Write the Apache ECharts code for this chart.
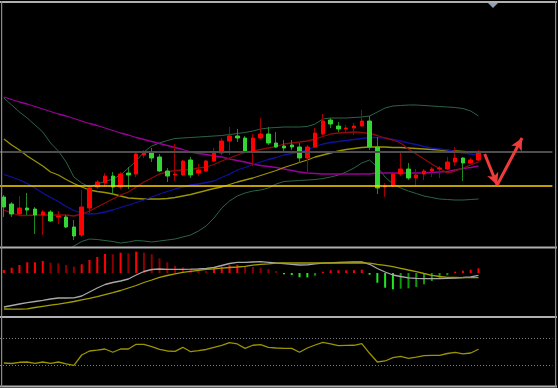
<!DOCTYPE html>
<html><head><meta charset="utf-8">
<script src="https://cdn.jsdelivr.net/npm/echarts/dist/echarts.min.js"></script>
<style>html,body{margin:0;padding:0;background:#000}#c{width:558px;height:388px}</style>
</head><body><div id="c"></div><script>
// ---------- data ----------
const SLOTS = 71;
const categories = Array.from({length: SLOTS}, (_, i) => String(i));

const openP  = [53,46,36,42,41,35,38,33,33,23,15,42,63,67,74,63,77,76,95,98,93,79,75,75,90,77,79,89,97,109,114,112,98,112,116,107,104,105,103,92,103,116,130,124,121,122,124,129,103,63,64,76,81,72,76,79,81,81,88,92,87,90];
const closeP = [43,36,42,40,35,38,29,34,23,14,43,62,68,74,63,76,75,96,97,92,79,74,76,89,75,80,89,97,109,114,112,98,112,116,107,103,102,103,92,103,117,129,126,121,122,124,129,103,62,64,76,81,72,75,79,81,82,88,92,87,90,98];
const lowP   = [33,33,35,35,16,15,28,26,22,10,13,37,61,63,57,61,61,73,92,88,78,68,69,74,72,74,78,88,95,95,108,97,84,111,105,102,99,100,87,78,102,115,122,118,118,115,123,100,56,53,63,74,70,64,70,73,72,80,84,69,86,89];
const highP  = [55,48,54,57,43,40,40,39,35,30,60,65,70,77,78,78,83,98,100,102,96,82,106,90,93,86,90,102,112,123,121,114,116,132,123,118,110,110,107,105,122,136,132,128,125,127,140,134,113,67,77,98,87,81,81,83,84,93,103,93,92,100];

const maPurple = [153,150.5,148,146,143.5,141,138.5,136,134,131.5,129,126.5,124.5,122,119.5,117,115,112.5,110.5,108.5,106.5,104.5,102.5,100.5,98,96.5,95.5,94,93,91,89.5,88,86,84.5,83.5,82.5,81,79.5,78,77,76.5,76,76,76,76,76,76,76,77,77,77,77,77,77,77,77.5,78,78.5,80,81.5,82.5,84];
const maOlive  = [111,105,100,94,89,84,78,75,70.5,66.5,63,60,58.5,57.5,56,54,52,51.5,51,51,51,51.5,52.5,54,55.5,57.5,59.5,61.5,63,65.5,68,70,72,74.5,77,79.5,82.5,85,87.5,90,93,95,97,99,100.5,101.5,102.5,103,103,103,102.5,102.5,102,101.5,101,100.5,100,99.5,99,98.5,98,97.5];
const maBlue   = [75.5,73,70,66.5,62,57,52.5,48.5,43.5,39.5,37,36,36.5,38,40,42.5,45,47.5,50,53,56,58.5,61,63,65,66,67.5,69,72.5,76,80,82.5,85.5,88,90.5,92.5,95,96.5,98,100,103.5,106,107.5,108.5,109.5,110.5,111.5,112.5,112.5,112,110.5,109,107,105.5,103.5,102,101,100,98.5,97,96,95];
const maRed    = [40,37,34.5,34.5,35,35,35,35,35,34,36,39,43,47,51,55,58,63,68,72,76,78,79.5,80,80.5,82,83,85.5,89,92,95,97.5,99,100.5,102,103.5,106,107,108,109,111,113.5,116,117,117.5,118,117.5,116.5,114.5,112,110,107,101,96,91,86,81.5,77,79,82,85,88];
const bbUpper  = [152,145,138,132,125,118,107,99,88,73,67,63,66,68.5,71,75,82,89,98,104,107,109.5,111.5,112,112.5,113,113.5,114,114.5,115.5,116.5,117.5,119,121,122,122.5,123,123,123,123.5,126,131,132,132,132,132.5,133,134,138,142,144,144.5,145,145,144.5,144,143.5,143,142.5,141.5,139,134];
const bbLower  = [null,null,null,null,null,null,null,null,-2,4,8.5,11,10.5,9.5,8.5,7,8,9.5,9,8,9,10,11,13,15,19,24,32,42,49,54,57,59,60,62,66,68.5,69,69.5,70,70.5,71.5,73,75,78,82,87,90,83,73,66,62,59,56.5,54,52.5,51,50.5,50,50,50.5,51];

const levelGray = 98;
const levelYellow = 64;
const arrowPath = [[61.8, 96], [63.4, 65], [66.6, 112]];

const macdHist   = [3,5.3,8,10.7,10.7,12,10.3,9.7,8,6.3,8.7,13,16,19,18.7,20.3,19.7,21.3,20.3,18.7,14.7,10.7,7.3,5.7,4,3,2,4.7,6.3,7.7,8.3,6.3,6,5.3,4,2,-1.3,-2,-4.3,-4.4,-2.7,1.3,2.7,2.7,2.7,2.8,3.3,-1.7,-9.7,-14.7,-16.3,-15.7,-15.3,-14,-11.3,-8,-4.7,-2.3,1.3,2.3,3.3,4.7];
const macdMain   = [-34,-32.5,-31,-29.7,-28.5,-27.3,-26,-25,-25,-24.8,-23,-19,-15,-11.5,-9.5,-8,-6,-2,1.5,3.5,4,3.7,3.7,3.7,3.8,4,4.5,5.5,7.5,9.5,10.7,10.7,11,11.3,10.7,10,9.5,8.7,8,8.2,9.2,9.8,10.2,10.5,10.8,11,11.2,8.7,4.5,1,-2,-3.5,-4.8,-5.3,-5.6,-5.6,-5.5,-5.3,-5,-4.5,-3.8,-2.3];
const macdSignal = [-36,-36.2,-36.2,-35.8,-34.5,-33.3,-32.2,-31.2,-29.8,-28.5,-26.8,-25.3,-23.7,-21.7,-19.7,-17.5,-15,-12.5,-9.5,-7,-4.3,-2.5,-0.8,0.7,1.7,2.7,3.6,4.2,4.9,5.5,6,6.7,7.8,8.7,9.2,9.8,10,10,10,10,10,10,10,10,10,10,10,9.8,8.7,7.7,6.3,4.7,3,1.4,-0.5,-2.3,-3.5,-4.3,-4.5,-4.7,-4.7,-4.7];

const rsi = [33.8,33.1,34.9,35.3,33.4,35.3,33.4,35.3,32.4,30.4,45.6,51.5,52.9,54.4,49.6,54.4,54.4,61.3,61.3,57.8,53.7,51.5,51,56.9,50.4,51.9,53.7,56.9,59.6,63.7,61.8,55.4,59.9,60.7,56.9,55.9,55.4,55.4,49.6,55.9,60.3,64.3,61.8,59.3,59.6,59.9,62.2,48.1,35.3,36.8,41.6,43.7,40.7,42.6,44.6,45.1,45.1,47.8,49.6,47.1,48.5,54];
const rsiLevels = [70, 30];

// ---------- chart ----------
const candles = openP.map((o, i) => [o, closeP[i], lowP[i], highP[i]]);
const bodies = openP.map((o, i) => [o, closeP[i], Math.min(o, closeP[i]), Math.max(o, closeP[i])]);
const histData = macdHist.map((v, i) => {
  const prev = i > 0 ? macdHist[i - 1] : 0;
  let c;
  if (v >= 0) c = v >= prev ? '#ff0000' : '#8c0000';
  else c = v <= prev ? '#1ee81e' : '#0a9a0a';
  return {value: v, itemStyle: {color: c}};
});

const W = 552.4;
const line = (name, data, color, width, xi, yi, extra) => Object.assign({
  name, type: 'line', data, xAxisIndex: xi, yAxisIndex: yi, symbol: 'none',
  lineStyle: {color, width}, itemStyle: {color}, silent: true, z: 2
}, extra || {});

const chart = echarts.init(document.getElementById('c'), null, {renderer: 'canvas'});
chart.setOption({
  backgroundColor: '#000000',
  animation: false,
  grid: [
    {left: 0, width: W, top: 3, height: 244},
    {left: 0, width: W, top: 249, height: 67},
    {left: 0, width: W, top: 318, height: 68}
  ],
  xAxis: [
    {type: 'category', gridIndex: 0, data: categories, boundaryGap: true, show: false},
    {type: 'category', gridIndex: 1, data: categories, boundaryGap: true, show: false},
    {type: 'category', gridIndex: 2, data: categories, boundaryGap: true, show: false},
    {type: 'value', gridIndex: 0, min: -0.5, max: SLOTS - 0.5, show: false}
  ],
  yAxis: [
    {type: 'value', gridIndex: 0, min: 3, max: 247, show: false, splitLine: {show: false}},
    {type: 'value', gridIndex: 1, min: -43, max: 24, show: false, splitLine: {show: false}},
    {type: 'value', gridIndex: 2, min: 0, max: 100, show: false, splitLine: {show: false}}
  ],
  series: [
    {
      type: 'line', xAxisIndex: 0, yAxisIndex: 0, data: [], silent: true, z: 1,
      markLine: {
        silent: true, symbol: 'none', label: {show: false}, animation: false,
        data: [
          {yAxis: levelGray, lineStyle: {color: '#4e4e4e', width: 2, type: 'solid'}},
          {yAxis: levelYellow, lineStyle: {color: '#ffd400', width: 1.6, type: 'solid'}}
        ]
      }
    },
    line('bbUpper', bbUpper, '#2c6446', 1, 0, 0),
    line('bbLower', bbLower, '#2c6446', 1, 0, 0),
    line('purple', maPurple, '#990099', 1.3, 0, 0),
    line('olive', maOlive, '#9a9400', 1.3, 0, 0),
    line('blue', maBlue, '#1010a0', 1.3, 0, 0),
    line('darkred', maRed, '#8c0a0a', 1.3, 0, 0),
    {
      name: 'wicks', type: 'candlestick', xAxisIndex: 0, yAxisIndex: 0, data: candles,
      barWidth: 1, silent: true, z: 3,
      itemStyle: {color: '#a00000', color0: '#1c8a1c', borderColor: '#a00000', borderColor0: '#1c8a1c', borderWidth: 1}
    },
    {
      name: 'bodies', type: 'candlestick', xAxisIndex: 0, yAxisIndex: 0, data: bodies,
      barWidth: 4, silent: true, z: 4,
      itemStyle: {color: '#ff0000', color0: '#33d633', borderColor: '#ff0000', borderColor0: '#33d633', borderWidth: 1}
    },
    {
      name: 'arrows', type: 'line', xAxisIndex: 3, yAxisIndex: 0, data: arrowPath, symbol: 'none',
      lineStyle: {opacity: 0}, silent: true, z: 5,
      markLine: {
        silent: true, animation: false, label: {show: false},
        symbol: ['none', 'arrow'], symbolSize: [9, 12],
        lineStyle: {color: '#ee3b3b', width: 3, type: 'solid'},
        data: [
          [{coord: arrowPath[0]}, {coord: arrowPath[1]}],
          [{coord: arrowPath[1]}, {coord: arrowPath[2]}]
        ]
      }
    },
    {
      name: 'hist', type: 'bar', xAxisIndex: 1, yAxisIndex: 1, data: histData, barWidth: 2, silent: true, z: 2
    },
    line('macd', macdMain, '#a8a8a8', 1.3, 1, 1, {z: 3}),
    line('signal', macdSignal, '#a39e00', 1.3, 1, 1, {z: 3}),
    line('rsi', rsi, '#9a9400', 1.3, 2, 2, {
      markLine: {
        silent: true, symbol: 'none', label: {show: false}, animation: false,
        lineStyle: {color: '#7a7a7a', width: 1, type: [1, 2]},
        data: rsiLevels.map(v => ({yAxis: v}))
      }
    })
  ],
  graphic: [
    {type: 'rect', shape: {x: 0, y: 1, width: 557, height: 2}, style: {fill: '#b0b0b0'}, z: 100},
    {type: 'rect', shape: {x: 0, y: 246.5, width: 557, height: 2}, style: {fill: '#b0b0b0'}, z: 100},
    {type: 'rect', shape: {x: 0, y: 316, width: 557, height: 2}, style: {fill: '#b0b0b0'}, z: 100},
    {type: 'rect', shape: {x: 0, y: 385.5, width: 557, height: 2}, style: {fill: '#b0b0b0'}, z: 100},
    {type: 'rect', shape: {x: 1, y: 1, width: 1.2, height: 386}, style: {fill: '#8a8a8a'}, z: 100},
    {type: 'rect', shape: {x: 555, y: 1, width: 1.2, height: 386}, style: {fill: '#8a8a8a'}, z: 100},
    {type: 'polygon', shape: {points: [[488, 3], [498, 3], [493, 8]]}, style: {fill: '#8fa0b4'}, z: 101}
  ]
});
</script></body></html>
